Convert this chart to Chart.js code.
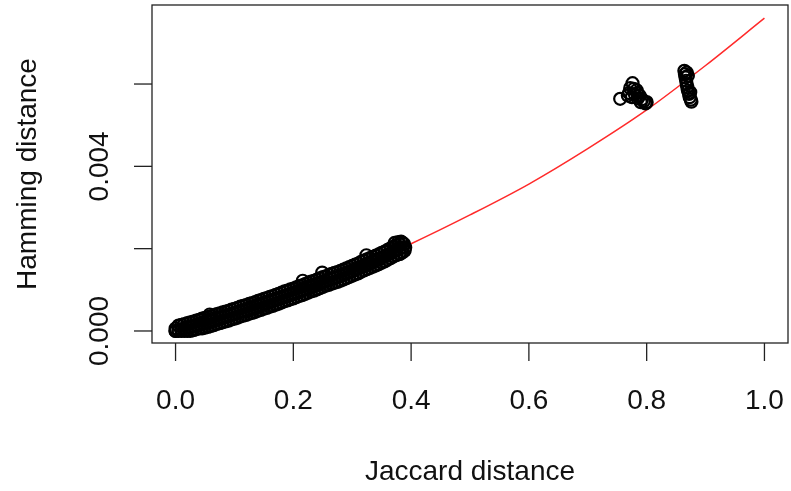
<!DOCTYPE html>
<html>
<head>
    <title>Jaccard vs Hamming</title>
    <script src="https://cdn.jsdelivr.net/npm/chart.js"></script>
    <style>
        body { margin: 0; background: #fff; }
    </style>
</head>
<body>
    <canvas id="distChart" width="791" height="491"></canvas>

    <script>
        // dense band of pairs: lower edge, middle and upper edge at each Jaccard value
        const bandJaccard = [0, 0.005, 0.01, 0.015, 0.02, 0.025, 0.03, 0.035, 0.04, 0.045,
            0.05, 0.055, 0.06, 0.065, 0.07, 0.075, 0.08, 0.085, 0.09, 0.095,
            0.1, 0.105, 0.11, 0.115, 0.12, 0.125, 0.13, 0.135, 0.14, 0.145,
            0.15, 0.155, 0.16, 0.165, 0.17, 0.175, 0.18, 0.185, 0.19, 0.195,
            0.2, 0.205, 0.21, 0.215, 0.22, 0.225, 0.23, 0.235, 0.24, 0.245,
            0.25, 0.255, 0.26, 0.265, 0.27, 0.275, 0.28, 0.285, 0.29, 0.295,
            0.3, 0.305, 0.31, 0.315, 0.32, 0.325, 0.33, 0.335, 0.34, 0.345,
            0.35, 0.355, 0.36, 0.365, 0.37, 0.375, 0.38, 0.385];
        const bandHammingLow = [0, 0, 0, 0, 0, 0, 0.00002, 0.00004, 0.00006, 0.00006,
            0.00008, 0.0001, 0.00012, 0.00014, 0.00017, 0.00019, 0.00021, 0.00023, 0.00025, 0.00028,
            0.0003, 0.00032, 0.00035, 0.00037, 0.00039, 0.00042, 0.00044, 0.00046, 0.00049, 0.00051,
            0.00054, 0.00056, 0.00059, 0.00061, 0.00064, 0.00066, 0.00069, 0.00072, 0.00074, 0.00077,
            0.00079, 0.00082, 0.00085, 0.00087, 0.0009, 0.00093, 0.00096, 0.00098, 0.00101, 0.00104,
            0.00107, 0.0011, 0.00112, 0.00115, 0.00117, 0.00119, 0.00122, 0.00125, 0.00128, 0.00131,
            0.00134, 0.00137, 0.0014, 0.00144, 0.00147, 0.0015, 0.00153, 0.00156, 0.00159, 0.00162,
            0.00166, 0.00169, 0.00173, 0.00177, 0.00181, 0.00184, 0.00187, 0.00191];
        const bandHammingMid = [0, 0.00002, 0.00004, 0.00006, 0.00008, 0.0001, 0.00012, 0.00014, 0.00016, 0.00018,
            0.0002, 0.00022, 0.00024, 0.00026, 0.00029, 0.00031, 0.00033, 0.00035, 0.00037, 0.0004,
            0.00042, 0.00044, 0.00047, 0.00049, 0.00051, 0.00054, 0.00056, 0.00058, 0.00061, 0.00063,
            0.00066, 0.00068, 0.00071, 0.00073, 0.00076, 0.00078, 0.00081, 0.00084, 0.00086, 0.00089,
            0.00091, 0.00094, 0.00097, 0.00099, 0.00102, 0.00105, 0.00108, 0.0011, 0.00113, 0.00116,
            0.00119, 0.00121, 0.00124, 0.00127, 0.00129, 0.00131, 0.00134, 0.00137, 0.0014, 0.00143,
            0.00146, 0.00149, 0.00152, 0.00156, 0.00159, 0.00162, 0.00165, 0.00168, 0.00171, 0.00174,
            0.00178, 0.00181, 0.00185, 0.00189, 0.00193, 0.00196, 0.00199, 0.00203];
        const bandHammingHigh = [0.00006, 0.00013, 0.00015, 0.00017, 0.00019, 0.00021, 0.00023, 0.00025, 0.00027, 0.0003,
            0.00032, 0.00034, 0.00036, 0.00038, 0.00041, 0.00043, 0.00045, 0.00047, 0.00049, 0.00052,
            0.00054, 0.00056, 0.00059, 0.00061, 0.00063, 0.00066, 0.00068, 0.0007, 0.00073, 0.00075,
            0.00078, 0.0008, 0.00083, 0.00085, 0.00088, 0.0009, 0.00093, 0.00096, 0.00098, 0.00101,
            0.00103, 0.00106, 0.00109, 0.00111, 0.00114, 0.00117, 0.0012, 0.00122, 0.00125, 0.00128,
            0.00131, 0.00133, 0.00136, 0.00139, 0.00141, 0.00143, 0.00146, 0.00149, 0.00152, 0.00155,
            0.00158, 0.00161, 0.00164, 0.00168, 0.00171, 0.00174, 0.00177, 0.0018, 0.00183, 0.00186,
            0.0019, 0.00193, 0.00197, 0.00201, 0.00205, 0.00208, 0.00212, 0.00215];

        // loose points: end of the band, small bumps, and the two far clusters
        const extraJaccard = [0.372, 0.378, 0.383, 0.388, 0.39, 0.389, 0.381,
            0.058, 0.216, 0.249, 0.324,
            0.755, 0.776, 0.772, 0.778, 0.783, 0.77, 0.78, 0.788, 0.775, 0.785, 0.792, 0.795, 0.79, 0.798, 0.8, 0.768, 0.784,
            0.864, 0.865, 0.866, 0.867, 0.868, 0.869, 0.87, 0.872, 0.873, 0.875, 0.876, 0.87, 0.868, 0.874];
        const extraHamming = [0.00214, 0.00216, 0.00217, 0.00211, 0.00203, 0.00195, 0.00187,
            0.0004, 0.00122, 0.00142, 0.00184,
            0.00564, 0.00602, 0.0059, 0.00588, 0.00585, 0.00578, 0.00575, 0.00572, 0.00568, 0.00565, 0.00563, 0.00558, 0.00556, 0.00553, 0.00556, 0.00572, 0.00578,
            0.00632, 0.00624, 0.00616, 0.00608, 0.006, 0.00592, 0.00584, 0.00576, 0.00568, 0.00562, 0.00557, 0.0062, 0.00628, 0.0058];

        // red fitted curve
        const curveJaccard = [0, 0.1, 0.2, 0.3, 0.4, 0.5, 0.6, 0.7, 0.8, 0.9, 1.0];
        const curveHamming = [0, 0.00042, 0.00091, 0.00148, 0.00212, 0.00282, 0.00357, 0.00443, 0.00537, 0.00645, 0.0076];

        const xTicks = [0, 0.2, 0.4, 0.6, 0.8, 1.0];
        const xTickLabels = ['0.0', '0.2', '0.4', '0.6', '0.8', '1.0'];
        const yTicks = [0, 0.002, 0.004, 0.006];
        const yTickLabels = ['0.000', '', '0.004', ''];

        const FONT = '28px "Liberation Sans", Arial, sans-serif';

        const points = [];
        bandJaccard.forEach((j, i) => {
            points.push({ x: j, y: bandHammingLow[i] });
            points.push({ x: j, y: bandHammingMid[i] });
            points.push({ x: j, y: bandHammingHigh[i] });
        });
        extraJaccard.forEach((j, i) => points.push({ x: j, y: extraHamming[i] }));

        const curve = curveJaccard.map((j, i) => ({ x: j, y: curveHamming[i] }));

        // R-style box, ticks and labels
        const rAxes = {
            id: 'rAxes',
            afterDraw(chart) {
                const ctx = chart.ctx;
                const a = chart.chartArea;
                const xs = chart.scales.x, ys = chart.scales.y;
                ctx.save();
                ctx.strokeStyle = '#222';
                ctx.lineWidth = 1.3;
                ctx.strokeRect(a.left, a.top, a.right - a.left, a.bottom - a.top);

                ctx.fillStyle = '#111';
                ctx.font = FONT;
                ctx.textAlign = 'center';
                ctx.textBaseline = 'alphabetic';
                xTicks.forEach((v, i) => {
                    const px = xs.getPixelForValue(v);
                    ctx.beginPath();
                    ctx.moveTo(px, a.bottom);
                    ctx.lineTo(px, a.bottom + 18);
                    ctx.stroke();
                    ctx.fillText(xTickLabels[i], px, 409);
                });

                yTicks.forEach((v, i) => {
                    const py = ys.getPixelForValue(v);
                    ctx.beginPath();
                    ctx.moveTo(a.left, py);
                    ctx.lineTo(a.left - 18, py);
                    ctx.stroke();
                    if (yTickLabels[i]) {
                        ctx.save();
                        ctx.translate(108, py);
                        ctx.rotate(-Math.PI / 2);
                        ctx.fillText(yTickLabels[i], 0, 0);
                        ctx.restore();
                    }
                });

                ctx.fillText('Jaccard distance', (a.left + a.right) / 2, 480);
                ctx.save();
                ctx.translate(36, (a.top + a.bottom) / 2);
                ctx.rotate(-Math.PI / 2);
                ctx.fillText('Hamming distance', 0, 0);
                ctx.restore();
                ctx.restore();
            }
        };

        const ctx = document.getElementById('distChart').getContext('2d');
        new Chart(ctx, {
            type: 'scatter',
            data: {
                datasets: [
                    {
                        label: 'pairs',
                        data: points,
                        pointStyle: 'circle',
                        pointRadius: 6,
                        borderWidth: 2.2,
                        borderColor: '#000',
                        backgroundColor: 'rgba(0,0,0,0)',
                        order: 0
                    },
                    {
                        type: 'line',
                        label: 'fit',
                        data: curve,
                        borderColor: '#ff2a2a',
                        borderWidth: 1.5,
                        pointRadius: 0,
                        fill: false,
                        cubicInterpolationMode: 'monotone',
                        order: 1
                    }
                ]
            },
            options: {
                responsive: false,
                animation: false,
                layout: {
                    autoPadding: false,
                    padding: { left: 152, right: 3, top: 5, bottom: 148 }
                },
                plugins: {
                    legend: { display: false },
                    tooltip: { enabled: false }
                },
                scales: {
                    x: { type: 'linear', min: -0.04, max: 1.04, display: false },
                    y: { type: 'linear', min: -0.000292, max: 0.00792, display: false }
                }
            },
            plugins: [rAxes]
        });
    </script>
</body>
</html>
